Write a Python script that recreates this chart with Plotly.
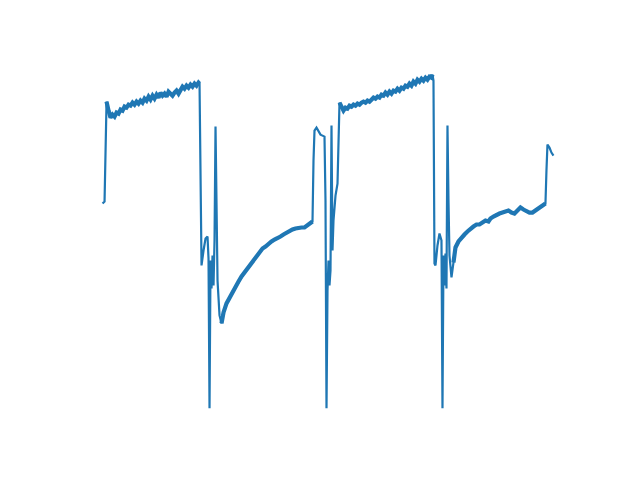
import plotly.graph_objects as go

# time samples and signal values
t = [0, 2, 4, 5, 6, 8, 10, 12, 14, 16, 18, 20, 22, 24, 26, 28, 30, 32, 34, 36, 38, 40,
     42, 44, 46, 48, 50, 52, 54, 56, 58, 60, 62, 64, 66, 68, 70, 72, 74, 76, 78, 80,
     82, 84, 86, 88, 90, 92, 94, 96, 97,
     99, 101, 103, 105, 106, 107, 108, 109, 110, 111, 112, 113, 114, 115, 117, 119,
     121, 124, 127, 130, 133, 136, 139, 142, 145, 148, 151, 154, 157, 160, 163, 166,
     169, 172, 175, 178, 181, 184, 187, 190, 193, 196, 199, 202, 205, 208, 210,
     211, 212, 214, 216, 218, 220, 222, 223, 224, 225, 226, 227, 228, 229, 230, 231,
     233, 235, 236, 237, 239, 241, 243, 245, 247, 249, 251, 253, 255, 257, 259, 261,
     263, 265, 267, 269, 271, 273, 275, 277, 279, 281, 283, 285, 287, 289, 291, 293,
     295, 297, 299, 301, 303, 305, 307, 309, 311, 313, 315, 317, 319, 321, 323, 325,
     327, 329, 330, 331,
     332, 333, 335, 337, 339, 340, 341, 342, 343, 344, 345, 346, 347, 349, 351, 353,
     356, 359, 362, 365, 368, 371, 374, 377, 380, 383, 386, 388, 391, 394, 397, 400,
     403, 406, 409, 412, 415, 418, 421, 424, 427, 430, 433, 436, 439, 442, 443, 444,
     445, 447, 449, 451]

v = [205, 207, 307, 304, 298, 291, 294, 292, 296, 295, 299, 298, 302, 301, 304, 303,
     306, 304, 307, 305, 308, 306, 310, 308, 312, 309, 313, 310, 314, 311, 316, 313,
     315, 312, 317, 315, 313, 316, 318, 315, 318, 322, 320, 323, 321, 324, 322, 325,
     323, 326, 325,
     143, 158, 170, 172, 150, 0, 148, 120, 153, 123, 168, 282, 193, 128, 93, 85,
     96, 105, 111, 116, 122, 127, 132, 136, 140, 144, 148, 153, 157, 160, 162, 165,
     167, 169, 170, 172, 174, 176, 177, 179, 180, 181, 181, 181, 183, 185, 187,
     248, 278, 281, 278, 274, 273, 272, 208, 0, 118, 148, 123, 138, 283, 158, 188,
     213, 225, 278, 306, 301, 298, 301, 300, 303, 302, 304, 303, 305, 304, 306, 307,
     306, 308, 307, 309, 311, 310, 312, 311, 314, 313, 316, 314, 317, 315, 318, 317,
     320, 318, 321, 320, 323, 322, 325, 323, 327, 325, 329, 327, 330, 328, 331, 329,
     332, 331, 334, 328,
     145, 143, 163, 175, 168, 0, 153, 123, 155, 120, 283, 208, 153, 131, 146, 161,
     167, 171, 174, 177, 180, 182, 184, 184, 186, 188, 187, 190, 192, 194, 195, 196,
     197, 198, 196, 195, 198, 201, 199, 197, 196, 196, 198, 200, 202, 204, 205, 238,
     264, 261, 256, 253]

# noisy stretches (start time, end time) that render as a thicker band
noisy_spans = [(4, 97), (119, 210), (237, 330), (351, 443)]

pad_x = 0.05 * (max(t) - min(t))
pad_y = 0.05 * (max(v) - min(v))

fig = go.Figure()
fig.add_trace(go.Scatter(x=t, y=v, mode="lines",
                         line=dict(color="#1f77b4", width=2.2),
                         hoverinfo="skip"))
for a, b in noisy_spans:
    i0, i1 = t.index(a), t.index(b)
    fig.add_trace(go.Scatter(x=t[i0:i1 + 1], y=v[i0:i1 + 1], mode="lines",
                             line=dict(color="#1f77b4", width=4.2),
                             hoverinfo="skip"))

fig.update_layout(
    width=640, height=480,
    margin=dict(l=80, r=64, t=58, b=55),
    paper_bgcolor="white", plot_bgcolor="white",
    showlegend=False,
    xaxis=dict(visible=False, range=[min(t) - pad_x, max(t) + pad_x]),
    yaxis=dict(visible=False, range=[min(v) - pad_y, max(v) + pad_y]),
)
fig.write_html("out.html")
